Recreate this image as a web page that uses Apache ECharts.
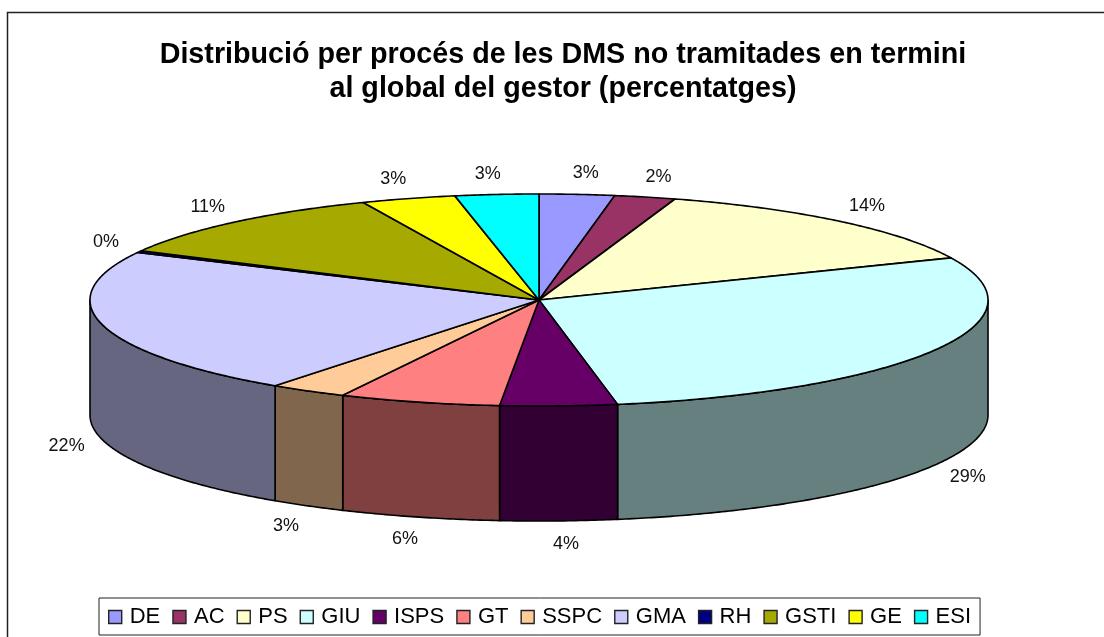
<!DOCTYPE html>
<html>
<head>
<meta charset="utf-8">
<style>
  html, body { margin: 0; padding: 0; background: #fff; }
  #chart { width: 1104px; height: 637px; }
</style>
<script src="https://cdn.jsdelivr.net/npm/echarts@6/dist/echarts.min.js"></script>
</head>
<body>
<div id="chart"></div>
<script>
// dades llegides del grafic (percentatges)
const categories = ['DE', 'AC', 'PS', 'GIU', 'ISPS', 'GT', 'SSPC', 'GMA', 'RH', 'GSTI', 'GE', 'ESI'];
const values = [2.7, 2.2, 13.6, 28.7, 4.2, 5.8, 2.8, 22.4, 0.3, 10.9, 3.4, 3.0];
const colors = ['#9999FF', '#993366', '#FFFFCC', '#CCFFFF', '#660066', '#FF8080', '#FFCC99', '#CCCCFF', '#000080', '#A6AA00', '#FFFF00', '#00FFFF'];
const titleLines = ['Distribució per procés de les DMS no tramitades en termini', 'al global del gestor (percentatges)'];

const FONT = '"Liberation Sans", Arial, sans-serif';
const cx = 539, cy = 300, rx = 449, ry = 106, depth = 115;
const total = values.reduce((a, b) => a + b, 0);

function point(deg, dy) {
  const t = deg * Math.PI / 180;
  return [cx + rx * Math.sin(t), cy - ry * Math.cos(t) + (dy || 0)];
}

function arc(from, to, dy) {
  const pts = [];
  const n = Math.max(2, Math.ceil((to - from) * 2));
  for (let i = 0; i <= n; i++) {
    pts.push(point(from + (to - from) * i / n, dy));
  }
  return pts;
}

function darken(hex) {
  const c = echarts.color.parse(hex);
  return 'rgb(' + Math.round(c[0] / 2) + ',' + Math.round(c[1] / 2) + ',' + Math.round(c[2] / 2) + ')';
}

function sliceItem(index) {
  return function (params, api) {
    const before = values.slice(0, index).reduce((a, b) => a + b, 0);
    const start = before / total * 360;
    const end = (before + api.value(0)) / total * 360;
    const children = [];

    // cara lateral, nomes la meitat de davant es veu
    const sideFrom = Math.max(start, 90);
    const sideTo = Math.min(end, 270);
    if (sideTo > sideFrom) {
      children.push({
        type: 'polygon',
        z2: 1,
        shape: { points: arc(sideFrom, sideTo, 0).concat(arc(sideFrom, sideTo, depth).reverse()) },
        style: { fill: darken(colors[index]), stroke: '#000', lineWidth: 1.6, lineJoin: 'round' }
      });
    }

    children.push({
      type: 'polygon',
      z2: 2,
      shape: { points: [[cx, cy]].concat(arc(start, end, 0)) },
      style: { fill: colors[index], stroke: '#000', lineWidth: 1.6, lineJoin: 'round' }
    });

    // etiqueta fora del pastis
    const mid = (start + end) / 2;
    const t = mid * Math.PI / 180;
    const s = Math.sin(t), c = Math.cos(t);
    children.push({
      type: 'text',
      z2: 3,
      x: cx + 480 * s + (s > 0 ? 6 : -6),
      y: cy - 128 * c + 1 + (c < 0 ? depth : 0),
      style: {
        text: Math.round(api.value(0) / total * 100) + '%',
        fontFamily: FONT,
        fontSize: 18,
        fill: '#111',
        align: 'center',
        verticalAlign: 'middle'
      }
    });

    return { type: 'group', children: children };
  };
}

const myChart = echarts.init(document.getElementById('chart'), null, { renderer: 'canvas' });
myChart.setOption({
  animation: false,
  backgroundColor: '#fff',
  graphic: [{
    type: 'rect',
    shape: { x: 7.5, y: 12.5, width: 1300, height: 800 },
    style: { fill: 'none', stroke: '#222', lineWidth: 1.5 },
    silent: true,
    z: -1
  }],
  title: {
    text: titleLines.join('\n'),
    left: 558,
    top: 33,
    textAlign: 'center',
    textStyle: { fontFamily: FONT, fontSize: 28.7, fontWeight: 'bold', color: '#000', lineHeight: 34 }
  },
  legend: {
    data: categories,
    left: 99,
    top: 598,
    orient: 'horizontal',
    padding: [8, 9, 7, 9],
    itemGap: 12,
    itemWidth: 13,
    itemHeight: 13,
    icon: 'rect',
    borderColor: '#222',
    borderWidth: 1,
    backgroundColor: '#fff',
    selectedMode: false,
    itemStyle: { borderColor: '#222', borderWidth: 1.4 },
    textStyle: { fontFamily: FONT, fontSize: 22, color: '#000', padding: [0, 0, 4, 3] }
  },
  series: categories.map((name, i) => ({
    type: 'custom',
    name: name,
    coordinateSystem: 'none',
    silent: true,
    itemStyle: { color: colors[i] },
    data: [[values[i]]],
    renderItem: sliceItem(i)
  }))
});
</script>
</body>
</html>
